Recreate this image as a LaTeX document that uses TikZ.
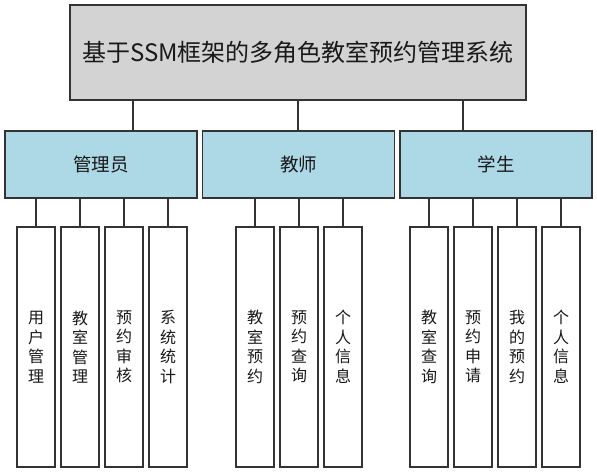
\documentclass[tikz,border=0pt]{standalone}
\usepackage{fontspec}
\newfontfamily\cjk{Noto Sans CJK SC}
\definecolor{titlegray}{HTML}{D3D3D3}
\definecolor{rolblue}{HTML}{ADD8E6}

\begin{document}
\begin{tikzpicture}[x=1pt, y=-1pt, font=\cjk,
  box/.style={draw=black!80, line width=1.6pt, inner sep=0pt, text=black!90},
  topbox/.style={box, fill=titlegray, minimum width=456pt, minimum height=95pt, font=\cjk\fontsize{24}{28}\selectfont},
  rolebox/.style={box, fill=rolblue, minimum width=192pt, minimum height=67pt, font=\cjk\fontsize{18.5}{22}\selectfont},
  leafbox/.style={box, fill=white, minimum width=38pt, minimum height=240pt, align=center, font=\cjk\fontsize{16}{19.5}\selectfont},
  link/.style={draw=black!80, line width=1.6pt}]

\useasboundingbox[fill=white] (0,0) rectangle (597,473);

\node[topbox] (top) at (298, 52.5) {基于SSM框架的多角色教室预约管理系统};

\node[rolebox] (admin) at (101, 164.5) {管理员};
\node[rolebox] (teacher) at (298.5, 164.5) {教师};
\node[rolebox] (student) at (496, 164.5) {学生};

\draw[link] ([xshift=-165pt]top.south) -- ([xshift=-165pt]top.south |- admin.north);
\draw[link] (top.south) -- (top.south |- teacher.north);
\draw[link] ([xshift=165pt]top.south) -- ([xshift=165pt]top.south |- student.north);

% leaves
\foreach \n/\x/\t in {a1/36/{用\\户\\管\\理}, a2/80/{教\\室\\管\\理}, a3/124/{预\\约\\审\\核}, a4/168/{系\\统\\统\\计}}
{
\node[leafbox] (\n) at (\x, 347) {\t};
\draw[link] (admin.south -| \n.north) -- (\n.north);
}
\foreach \n/\x/\t in {t1/255/{教\\室\\预\\约}, t2/299/{预\\约\\查\\询}, t3/343/{个\\人\\信\\息}}
{
\node[leafbox] (\n) at (\x, 347) {\t};
\draw[link] (teacher.south -| \n.north) -- (\n.north);
}
\foreach \n/\x/\t in {s1/429/{教\\室\\查\\询}, s2/473/{预\\约\\申\\请}, s3/517/{我\\的\\预\\约}, s4/561/{个\\人\\信\\息}}
{
\node[leafbox] (\n) at (\x, 347) {\t};
\draw[link] (student.south -| \n.north) -- (\n.north);
}

\end{tikzpicture}
\end{document}
